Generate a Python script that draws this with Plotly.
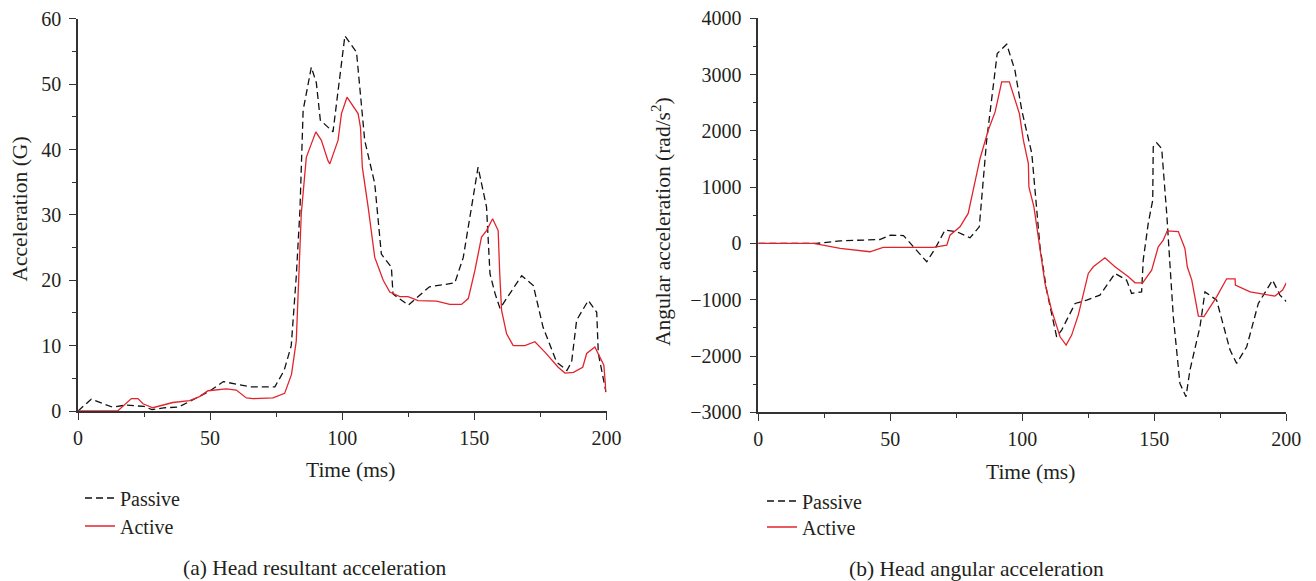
import plotly.graph_objects as go

# ---------------- data ----------------
# (a) Head resultant acceleration (G)
res_passive_t = [0, 5, 13, 18, 25, 28, 33, 38, 43, 50, 55, 65, 74.5, 78, 80.7, 82.6, 84, 85.2,
                 88.3, 90.2, 91.7, 96.5, 101, 105.4, 108.5, 112.3, 114.8, 118.6, 119.2, 125,
                 133, 142.6, 145.8, 151.4, 154.6, 155.9, 157.8, 159.7, 167.9, 172.3, 176,
                 181.1, 185, 186.8, 188.7, 193.1, 196.3, 196.9, 199.8]
res_passive_v = [0, 1.8, 0.6, 0.9, 0.7, 0.2, 0.5, 0.6, 1.6, 3.1, 4.5, 3.7, 3.7, 6.2, 10, 20.6, 30.8, 46,
                 52.6, 50.2, 44.5, 42.7, 57.4, 54.9, 41.4, 34.8, 24, 22, 17.9, 16.2,
                 19, 19.6, 23.5, 37.3, 31.2, 21, 18, 15.7, 20.7, 19.2, 12.8,
                 7.5, 6.2, 7.5, 13.9, 16.9, 15.1, 8.8, 2.9]

res_active_t = [0, 15, 20.2, 22.7, 24.6, 28.3, 35.9, 42.2, 46, 49.2, 56.1, 59.9, 63.7, 66.2, 73.8,
                78.2, 80.8, 82.6, 84.5, 86.4, 90, 92.1, 94.6, 95.3, 98.4, 99.7, 101.8, 106,
                106.9, 107.6, 109.8, 112.3, 115.5, 118, 121.8, 124.9, 128.7, 135.7, 140.7,
                145.1, 147.7, 150.2, 152.7, 154.6, 156.9, 159, 159.6, 160.3, 162.2, 164.7,
                169.1, 172.9, 176.7, 181.7, 184.3, 187.5, 191, 192.5, 195.6, 198.2, 199, 199.8]
res_active_v = [0, 0, 1.9, 1.9, 1.1, 0.5, 1.3, 1.6, 2.2, 3.1, 3.4, 3.2, 2.0, 1.9, 2.0,
                2.7, 5.6, 10.7, 30.2, 38.8, 42.7, 41.4, 38.3, 37.8, 41.4, 45.5, 48, 45.5,
                43.4, 37.3, 31.2, 23.5, 20, 18.2, 17.5, 17.5, 16.9, 16.8, 16.3,
                16.3, 17.2, 21.5, 26.6, 27.6, 29.4, 27.6, 21, 15.4, 11.8, 10,
                10, 10.6, 9, 6.7, 5.8, 5.9, 6.7, 8.8, 9.8, 7.5, 7, 2.9]

# (b) Head angular acceleration (rad/s^2)
ang_passive_t = [0, 22, 31, 46, 50, 55, 63.8, 67, 70.7, 75.1, 80.2, 83.7, 86.5, 90.5, 94.1, 97.2,
                 99.8, 103.6, 106.7, 109.2, 113, 114.9, 120, 124.4, 129.4, 135.1, 139.5, 141.4,
                 145.2, 145.8, 147.7, 149.4, 149.6, 150.9, 152.8, 154.7, 157.2, 159.7, 162,
                 163.5, 167.3, 169.2, 173.6, 176.1, 178.7, 181.2, 185, 189.4, 192.6, 194.8,
                 197.6, 200]
ang_passive_v = [0, 0, 46, 70, 147, 140, -326, -89, 236, 210, 100, 295, 1835, 3374, 3540, 3078,
                 2367, 1598, -60, -829, -1658, -1540, -1066, -1006, -918, -533, -652, -888,
                 -860, -297, 355, 769, 1716, 1787, 1687, 533, -1303, -2487, -2724,
                 -2250, -1481, -860, -1007, -1421, -1895, -2131, -1836, -1066, -829, -652,
                 -918, -1030]

ang_active_t = [0, 20.9, 31, 42.3, 47.3, 66.3, 71.4, 72.6, 76.4, 79.5, 81.4, 84, 87.1, 89.7, 92.2,
                95.1, 98.9, 100.4, 102.3, 102.5, 104.4, 106.7, 108.6, 111.1, 114.3, 116.6,
                118.7, 121.2, 125, 126.9, 131.3, 135.1, 140.2, 142.7, 145.6, 149, 151.5,
                153.4, 154.9, 159.1, 161.6, 162.5, 164.2, 166.7, 168.8, 173.6, 177.4, 180.6,
                180.7, 186.3, 195.7, 198.6, 200]
ang_active_v = [0, 0, -89, -148, -70, -70, -30, 147, 295, 533, 947, 1510, 2012, 2337, 2870,
                2870, 2308, 1835, 1420, 1005, 650, -60, -710, -1185, -1658, -1806,
                -1628, -1273, -533, -415, -255, -415, -593, -699, -699, -474, -60,
                59, 224, 210, -89, -415, -652, -1291, -1300, -948, -628, -628,
                -740, -860, -936, -829, -700]

x_ticks = [0, 50, 100, 150, 200]
series_names = ["Passive", "Active"]
captions = ["(a) Head resultant acceleration", "(b) Head angular acceleration"]
y_titles = ["Acceleration (G)", "Angular acceleration (rad/s<sup>2</sup>)"]
x_title = "Time (ms)"

# ---------------- style ----------------
W, H = 1316, 581
FONT = "Liberation Serif"
TXT = "#231f20"
RED = "#e3232c"
FS_TICK = 20
FS_LEG = 20
FS_TITLE = 21.5

def px_x(p):
    return p / W

def px_y(p):
    return 1 - p / H

fig = go.Figure()

dash_line = dict(color="#111111", width=1.3, dash="7px,4px")
red_line = dict(color=RED, width=1.3)

fig.add_trace(go.Scatter(x=res_passive_t, y=res_passive_v, mode="lines", name=series_names[0],
                         line=dash_line, xaxis="x", yaxis="y", legend="legend"))
fig.add_trace(go.Scatter(x=res_active_t, y=res_active_v, mode="lines", name=series_names[1],
                         line=red_line, xaxis="x", yaxis="y", legend="legend2"))
fig.add_trace(go.Scatter(x=ang_passive_t, y=ang_passive_v, mode="lines", name=series_names[0],
                         line=dash_line, xaxis="x2", yaxis="y2", legend="legend3"))
fig.add_trace(go.Scatter(x=ang_active_t, y=ang_active_v, mode="lines", name=series_names[1],
                         line=red_line, xaxis="x2", yaxis="y2", legend="legend4"))

axis_common = dict(showline=True, linecolor="#333333", linewidth=1.5, showgrid=False,
                   zeroline=False, ticks="outside", tickcolor="#333333", tickwidth=1.3,
                   tickfont=dict(family=FONT, size=FS_TICK, color=TXT), mirror=False,
                   automargin=False)

minor_x = dict(dtick=25, tick0=0, ticklen=4, ticks="outside", tickcolor="#333333", tickwidth=1.3)

xdom_a = [px_x(78), px_x(606.5)]
xdom_b = [px_x(758.3), px_x(1286.3)]
ydom_a = [px_y(411), px_y(18.8)]
ydom_b = [px_y(412.3), px_y(18.3)]

fig.update_layout(
    width=W, height=H,
    margin=dict(l=0, r=0, t=0, b=0, pad=0, autoexpand=False),
    paper_bgcolor="white", plot_bgcolor="white",
    font=dict(family=FONT, size=FS_TITLE, color=TXT),
    xaxis=dict(domain=xdom_a, anchor="y", range=[0, 200], tickvals=x_ticks, ticklen=7,
               minor=minor_x, ticklabelstandoff=1, **axis_common),
    yaxis=dict(domain=ydom_a, anchor="x", range=[0, 60], dtick=10, ticklen=7,
               minor=dict(dtick=5, tick0=0, ticklen=4, ticks="outside", tickcolor="#333333", tickwidth=1.3),
               ticklabelstandoff=4, **axis_common),
    xaxis2=dict(domain=xdom_b, anchor="y2", range=[0, 200], tickvals=x_ticks, ticklen=7,
                minor=minor_x, ticklabelstandoff=1, **axis_common),
    yaxis2=dict(domain=ydom_b, anchor="x2", range=[-3000, 4000], dtick=1000, ticklen=7,
                minor=dict(dtick=500, tick0=0, ticklen=4, ticks="outside", tickcolor="#333333", tickwidth=1.3),
                ticklabelstandoff=4, **axis_common),
    showlegend=True,
)

leg_common = dict(font=dict(family=FONT, size=FS_LEG, color=TXT), bgcolor="rgba(0,0,0,0)",
                  xanchor="left", yanchor="middle", borderwidth=0)
fig.update_layout(
    legend=dict(x=px_x(80), y=px_y(498), **leg_common),
    legend2=dict(x=px_x(80), y=px_y(526), **leg_common),
    legend3=dict(x=px_x(762), y=px_y(501), **leg_common),
    legend4=dict(x=px_x(762), y=px_y(527), **leg_common),
)

ann = []
ann.append(dict(text=x_title, x=px_x(350), y=px_y(470), xref="paper", yref="paper",
                showarrow=False, xanchor="center", yanchor="middle"))
ann.append(dict(text=x_title, x=px_x(1030), y=px_y(472), xref="paper", yref="paper",
                showarrow=False, xanchor="center", yanchor="middle"))
ann.append(dict(text=y_titles[0], x=px_x(19.5), y=px_y(209), xref="paper", yref="paper",
                showarrow=False, xanchor="center", yanchor="middle", textangle=-90))
ann.append(dict(text=y_titles[1], x=px_x(661), y=px_y(221), xref="paper", yref="paper",
                showarrow=False, xanchor="center", yanchor="middle", textangle=-90))
ann.append(dict(text=captions[0], x=px_x(314), y=px_y(568), xref="paper", yref="paper",
                showarrow=False, xanchor="center", yanchor="middle"))
ann.append(dict(text=captions[1], x=px_x(976), y=px_y(569), xref="paper", yref="paper",
                showarrow=False, xanchor="center", yanchor="middle"))
for a in ann:
    a["font"] = dict(family=FONT, size=FS_TITLE, color=TXT)
fig.update_layout(annotations=ann)

fig.write_html(
    "out.html",
    config={"displayModeBar": False},
    post_script="document.body.style.margin='0';document.documentElement.style.overflow='hidden';",
)
